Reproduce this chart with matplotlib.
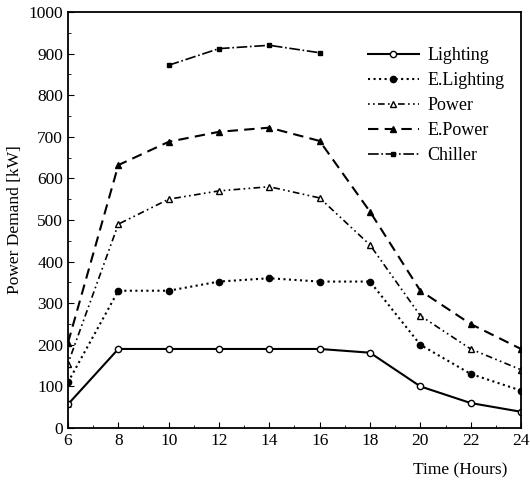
import numpy as np
import matplotlib
matplotlib.use("Agg")
import matplotlib.pyplot as plt
from matplotlib.ticker import MultipleLocator

plt.rcParams['font.family'] = ['Liberation Serif', 'DejaVu Serif']

hours = [6, 8, 10, 12, 14, 16, 18, 20, 22, 24]
lighting = [57, 190, 190, 190, 190, 190, 181, 100, 60, 39]
e_lighting = [110, 330, 330, 352, 360, 352, 352, 200, 130, 90]
power = [155, 490, 550, 570, 580, 553, 440, 270, 190, 140]
e_power = [205, 632, 688, 712, 722, 690, 520, 330, 250, 190]
chiller_hours = [10, 12, 14, 16]
chiller = [872, 912, 920, 902]

fig = plt.figure(figsize=(5.3, 4.82), dpi=100)
ax = fig.add_axes([68/530, 1-428/482, (521-68)/530, (428-12)/482])

ax.plot(hours, lighting, '-', color='black', lw=1.5, marker='o', ms=4.5,
        mfc='white', mec='black', label='Lighting')
ax.plot(hours, e_lighting, ':', color='black', lw=1.5, marker='o', ms=4.5,
        label='E.Lighting')
ax.plot(hours, power, color='black', lw=1.2, ls=(0, (1, 2, 1, 2, 4, 2)), marker='^', ms=4,
        mfc='white', mec='black', label='Power')
ax.plot(hours, e_power, '--', color='black', lw=1.5, dashes=(5, 3), marker='^', ms=4.5,
        label='E.Power')
ax.plot(chiller_hours, chiller, color='black', lw=1.2, ls='-.', marker='s', ms=3,
        label='Chiller')

ax.set_xlim(6, 24)
ax.set_ylim(0, 1000)
ax.set_xticks(range(6, 25, 2))
ax.set_yticks(range(0, 1001, 100))
ax.xaxis.set_minor_locator(MultipleLocator(1))
ax.yaxis.set_minor_locator(MultipleLocator(50))
ax.tick_params(direction='in', which='both', labelsize=12.5, top=False, right=False)
ax.tick_params(which='major', length=4)
ax.tick_params(which='minor', length=2)
for s in ax.spines.values():
    s.set_linewidth(1.3)

ax.set_ylabel('Power Demand [kW]', fontsize=12.5)
fig.text(460/530, 1-470/482, 'Time (Hours)', fontsize=12.5, ha='center', va='center')

ax.legend(loc='upper right', bbox_to_anchor=(1.0, 0.955), frameon=False, fontsize=13,
          handlelength=2.8, labelspacing=0.45, handletextpad=0.5)

fig.savefig('out.png', dpi=100)
